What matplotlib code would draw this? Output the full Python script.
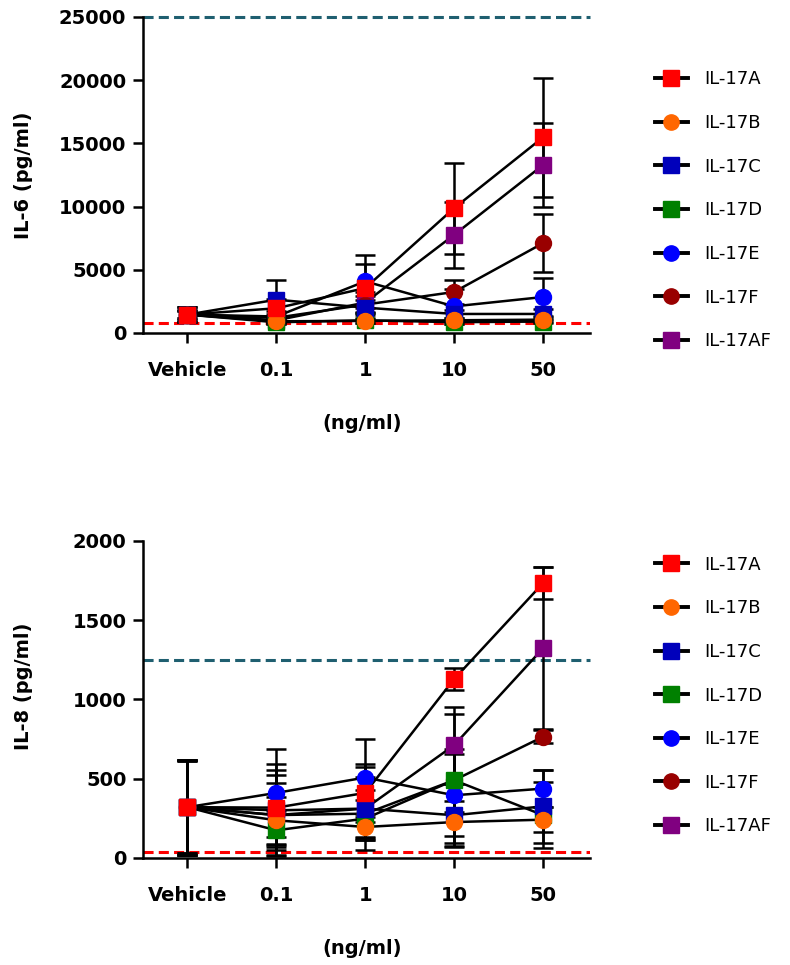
import matplotlib.pyplot as plt
from matplotlib.lines import Line2D

# doses and groups
doses = ['Vehicle', '0.1', '1', '10', '50']
groups = ['IL-17A', 'IL-17B', 'IL-17C', 'IL-17D', 'IL-17E', 'IL-17F', 'IL-17AF']
colors = ['#ff0000', '#ff6600', '#0000bb', '#008000', '#0000ff', '#990000', '#800080']
markers = ['s', 'o', 's', 's', 'o', 'o', 's']

# IL-6 (pg/ml), mean and error per group
il6_mean = [
    [1450, 1950, 3550, 9870, 15470],
    [1450, 920, 950, 1000, 1050],
    [1450, 2630, 2000, 1500, 1500],
    [1450, 840, 1000, 850, 900],
    [1450, 1300, 4080, 2100, 2840],
    [1450, 1200, 2240, 3240, 7100],
    [1450, 1000, 2400, 7760, 13280],
]
il6_err = [
    [600, 700, 1920, 3600, 4730],
    [300, 150, 150, 150, 200],
    [600, 1530, 600, 300, 400],
    [300, 150, 200, 150, 150],
    [600, 400, 2100, 1400, 1500],
    [400, 300, 700, 970, 2300],
    [400, 300, 800, 2630, 3340],
]
il6_lod = 800
il6_top = 25000

# IL-8 (pg/ml)
il8_mean = [
    [320, 317, 410, 1128, 1733],
    [320, 237, 195, 226, 241],
    [320, 300, 311, 269, 325],
    [320, 174, 248, 490, 270],
    [320, 410, 507, 395, 437],
    [320, 270, 279, 490, 764],
    [320, 270, 311, 711, 1322],
]
il8_err = [
    [290, 236, 185, 70, 100],
    [300, 150, 80, 130, 80],
    [290, 290, 263, 200, 230],
    [300, 122, 120, 417, 210],
    [300, 280, 246, 260, 116],
    [300, 200, 150, 200, 42],
    [300, 250, 200, 242, 512],
]
il8_lod = 35
il8_top = 1250

BOLD = dict(fontsize=14, fontweight='bold')


def panel(ax, means, errs, ylabel, ymax, ystep, lod, top, ylab_y, leg_y):
    x = list(range(len(doses)))
    ax.axhline(lod, color='#ff0000', lw=2.2, ls=(0, (3.3, 1.7)), zorder=1)
    ax.axhline(top, color='#1f5f70', lw=2.2, ls=(0, (3.3, 1.7)), zorder=1, clip_on=False)
    for i in reversed(range(len(groups))):
        ax.errorbar(x, means[i], yerr=errs[i], fmt='none', ecolor='black',
                    elinewidth=1.8, capsize=7, capthick=1.8, zorder=2)
        ax.plot(x, means[i], color='black', lw=1.8, zorder=2)
    for i in reversed(range(len(groups))):
        ax.plot(x, means[i], ls='none', marker=markers[i], ms=11.5,
                mfc=colors[i], mec=colors[i], zorder=3)

    ax.set_xlim(-0.5, 4.53)
    ax.set_ylim(0, ymax)
    ax.set_yticks(range(0, ymax + 1, ystep))
    ax.set_xticks(x)
    ax.set_xticklabels(doses, **BOLD)
    for lab in ax.get_yticklabels():
        lab.set_fontweight('bold')
        lab.set_fontsize(14)
    ax.tick_params(direction='out', length=7, width=1.8)
    ax.tick_params(axis='x', pad=13)
    ax.tick_params(axis='y', pad=5)
    for s in ['top', 'right']:
        ax.spines[s].set_visible(False)
    for s in ['left', 'bottom']:
        ax.spines[s].set_linewidth(1.8)

    ax.set_ylabel(ylabel, **BOLD)
    ax.yaxis.set_label_coords(-0.245, ylab_y)
    ax.set_xlabel('(ng/ml)', **BOLD)
    ax.xaxis.set_label_coords(0.49, -0.255)

    handles = [Line2D([], [], color='black', lw=2.8, marker=markers[i], ms=11,
                      mfc=colors[i], mec=colors[i]) for i in range(len(groups))]
    ax.legend(handles, groups, loc='upper left', bbox_to_anchor=(1.125, leg_y),
              frameon=False, fontsize=13, handlelength=1.8, handletextpad=0.9,
              labelspacing=1.42, borderpad=0)


fig = plt.figure(figsize=(7.9, 9.65), dpi=100)
ax1 = fig.add_axes([0.181, 0.655, 0.566, 0.3275])
ax2 = fig.add_axes([0.181, 0.111, 0.566, 0.3285])

panel(ax1, il6_mean, il6_err, 'IL-6 (pg/ml)', 25000, 5000, il6_lod, il6_top, 0.5, 0.859)
panel(ax2, il8_mean, il8_err, 'IL-8 (pg/ml)', 2000, 500, il8_lod, il8_top, 0.54, 0.982)

fig.savefig('out.png', dpi=100)
